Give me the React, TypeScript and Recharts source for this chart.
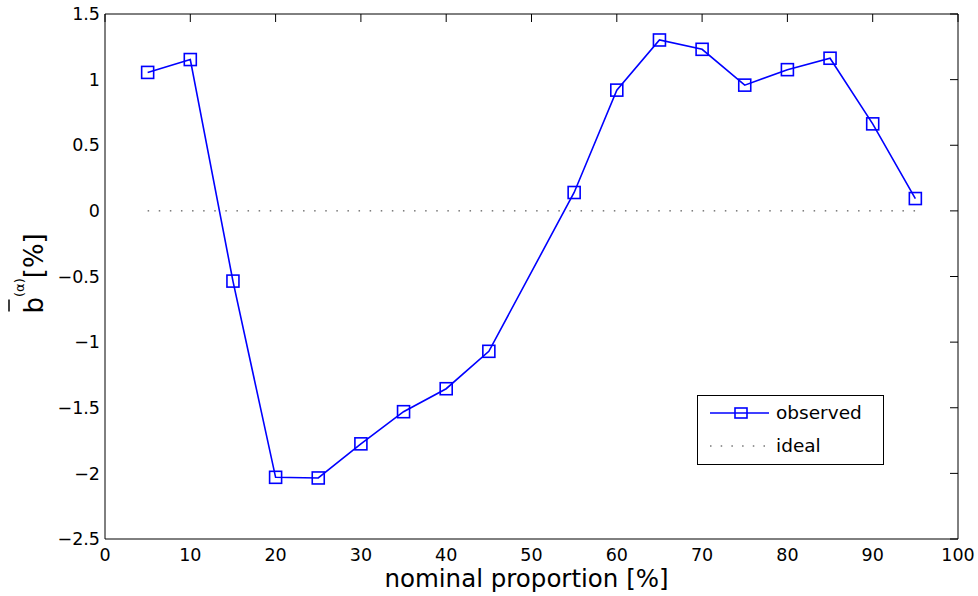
import { LineChart, Line, XAxis, YAxis } from 'recharts';

// nominal proportion (%) where the observed value was measured (no point at 50)
const observedX = [5, 10, 15, 20, 25, 30, 35, 40, 45, 55, 60, 65, 70, 75, 80, 85, 90, 95];
const observedY = [1.055, 1.153, -0.535, -2.03, -2.035, -1.775, -1.53, -1.355, -1.07, 0.14, 0.92, 1.302, 1.231, 0.958, 1.076, 1.163, 0.663, 0.094];

const idealX = [5, 95];
const idealY = [0, 0];

const xTicks = [0, 10, 20, 30, 40, 50, 60, 70, 80, 90, 100];
const yTicks = [-2.5, -2, -1.5, -1, -0.5, 0, 0.5, 1, 1.5];

const observed = observedX.map((x, i) => ({ x, y: observedY[i] }));
const ideal = idealX.map((x, i) => ({ x, y: idealY[i] }));

const FONT = 'DejaVu Sans';
const BLUE = '#0000ff';
const tickStyle = { fill: '#000', fontSize: 17.5, fontFamily: FONT };
const tickLineStyle = { stroke: '#000', strokeWidth: 1 };

const fmtY = (v: number) => String(v).replace('-', '\u2212');

const SquareDot = (props: any) => {
  const { cx, cy, index } = props;
  if (cx == null || cy == null) return <g key={`n${index}`} />;
  return (
    <rect key={`d${index}`} x={cx - 6} y={cy - 6} width={12} height={12}
      fill="none" stroke={BLUE} strokeWidth={1.6} />
  );
};

const NoLabel = () => <g />;

const XLabel = ({ viewBox }: any) => (
  <text x={viewBox.x + viewBox.width / 2 - 5} y={587} textAnchor="middle"
    fontSize={24.5} fontFamily={FONT} fill="#000">
    nominal proportion [%]
  </text>
);

const YLabel = ({ viewBox }: any) => {
  const cy = viewBox.y + viewBox.height / 2 - 2;
  return (
    <g transform={`translate(43, ${cy}) rotate(-90)`}>
      <text x={-39} y={0} fontSize={26} fontFamily={FONT} fill="#000">
        b
        <tspan dy={-19} fontSize={13}>(α)</tspan>
        <tspan dy={19} fontSize={26}>[%]</tspan>
      </text>
      <line x1={-37} x2={-25} y1={-34} y2={-34} stroke="#000" strokeWidth={1.5} />
    </g>
  );
};

export default function App() {
  return (
    <div style={{ position: 'absolute', left: 0, top: 0, width: 978, height: 596, background: '#fff' }}>
      <LineChart width={978} height={596} margin={{ top: 14, right: 20, bottom: 0, left: 0 }}>
        {/* thin mirrored axes give the inward tick marks and the box */}
        <XAxis xAxisId="bm" orientation="bottom" mirror type="number" domain={[0, 100]} ticks={xTicks}
          height={1} stroke="#000" axisLine={false} tickLine={tickLineStyle} tickSize={8} tick={<NoLabel />} />
        <XAxis xAxisId="b" type="number" dataKey="x" domain={[0, 100]} ticks={xTicks}
          height={57} stroke="#000" tickLine={false} tickSize={0} tickMargin={10} tick={tickStyle}
          label={<XLabel />} />
        <XAxis xAxisId="t" orientation="top" mirror type="number" dataKey="x" domain={[0, 100]} ticks={xTicks}
          height={1} stroke="#000" tickLine={tickLineStyle} tickSize={8} tick={<NoLabel />} />
        <YAxis yAxisId="lm" orientation="left" mirror type="number" domain={[-2.5, 1.5]} ticks={yTicks}
          width={1} stroke="#000" axisLine={false} tickLine={tickLineStyle} tickSize={8} tick={<NoLabel />} />
        <YAxis yAxisId="l" type="number" domain={[-2.5, 1.5]} ticks={yTicks} width={105}
          stroke="#000" tickLine={false} tickSize={0} tickMargin={5} tick={tickStyle} tickFormatter={fmtY}
          label={<YLabel />} />
        <YAxis yAxisId="r" orientation="right" mirror type="number" domain={[-2.5, 1.5]} ticks={yTicks}
          width={1} stroke="#000" tickLine={tickLineStyle} tickSize={8} tick={<NoLabel />} />
        <Line xAxisId="t" yAxisId="r" data={ideal} dataKey="y" stroke="#333" strokeWidth={1}
          strokeDasharray="1.5 9.6" dot={false} isAnimationActive={false} />
        <Line xAxisId="b" yAxisId="l" data={observed} dataKey="y" stroke={BLUE} strokeWidth={1.6}
          dot={SquareDot} activeDot={false} isAnimationActive={false} />
      </LineChart>
      <div style={{
        position: 'absolute', left: 697, top: 395, width: 187, height: 70, boxSizing: 'border-box',
        border: '1px solid #000', background: '#fff', fontFamily: FONT, fontSize: 18.5, color: '#000',
      }}>
        <svg width={187} height={70} style={{ position: 'absolute', left: -1, top: -1 }}>
          <line x1={13} x2={72} y1={18} y2={18} stroke={BLUE} strokeWidth={1.6} />
          <rect x={38} y={13} width={12} height={10} fill="none" stroke={BLUE} strokeWidth={1.6} />
          <line x1={13} x2={72} y1={51} y2={51} stroke="#333" strokeWidth={1} strokeDasharray="1.5 9.2" />
          <text x={79} y={18} dy="0.35em" fontSize={18.5} fontFamily={FONT}>observed</text>
          <text x={79} y={51} dy="0.35em" fontSize={18.5} fontFamily={FONT}>ideal</text>
        </svg>
      </div>
    </div>
  );
}
